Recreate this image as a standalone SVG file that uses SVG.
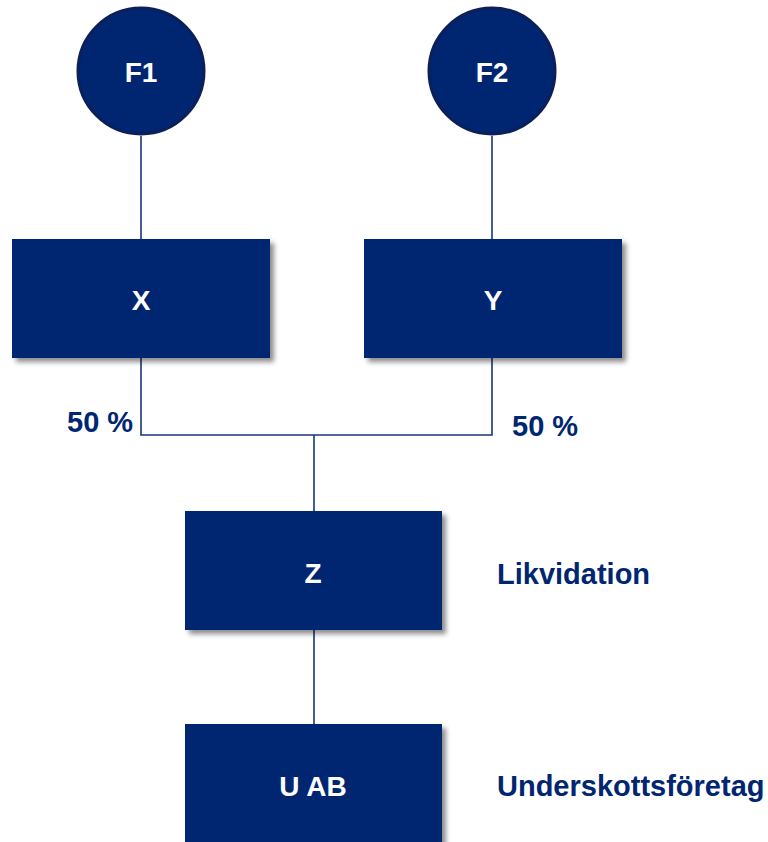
<svg xmlns="http://www.w3.org/2000/svg" width="768" height="842" viewBox="0 0 768 842">
<defs>
<filter id="sh" x="-10%" y="-10%" width="130%" height="130%">
<feGaussianBlur in="SourceAlpha" stdDeviation="2.5"/>
<feOffset dx="4" dy="4" result="b"/>
<feFlood flood-color="#000" flood-opacity="0.45"/>
<feComposite in2="b" operator="in"/>
<feMerge><feMergeNode/><feMergeNode in="SourceGraphic"/></feMerge>
</filter>
</defs>
<style>
.box{fill:#002672;filter:url(#sh)}
.circ{fill:#002672;stroke:#0c1f58;stroke-width:3}
.lbl{font-family:"Liberation Sans",Arial,sans-serif;font-weight:bold;font-size:28px;fill:#fff;text-anchor:middle}
.side{font-family:"Liberation Sans",Arial,sans-serif;font-weight:bold;font-size:29px;fill:#002672}
.con{stroke:#1a357c;stroke-width:1.6;fill:none}
</style>
<rect width="768" height="842" fill="#fff"/>
<g id="connectors">
<path class="con" d="M141 136V239M492 136V239M141 358V435H492V358M314 435V511M314 630V724"/>
</g>
<g id="F1"><circle class="circ" cx="141" cy="71" r="63"/><text class="lbl" x="141" y="82">F1</text></g>
<g id="F2"><circle class="circ" cx="492" cy="71" r="63"/><text class="lbl" x="492" y="82">F2</text></g>
<g id="X"><rect class="box" x="12" y="239" width="258" height="119"/><text class="lbl" x="141" y="310">X</text></g>
<g id="Y"><rect class="box" x="364" y="239" width="258" height="119"/><text class="lbl" x="493" y="310">Y</text></g>
<g id="Z"><rect class="box" x="185" y="511" width="257" height="119"/><text class="lbl" x="313" y="583">Z</text></g>
<g id="UAB"><rect class="box" x="185" y="724" width="257" height="130"/><text class="lbl" x="313" y="796">U AB</text></g>
<g id="labels">
<text class="side" x="67" y="432">50 %</text>
<text class="side" x="512" y="436">50 %</text>
<text class="side" x="497" y="584">Likvidation</text>
<text class="side" x="497" y="796">Underskottsföretag</text>
</g>
</svg>
